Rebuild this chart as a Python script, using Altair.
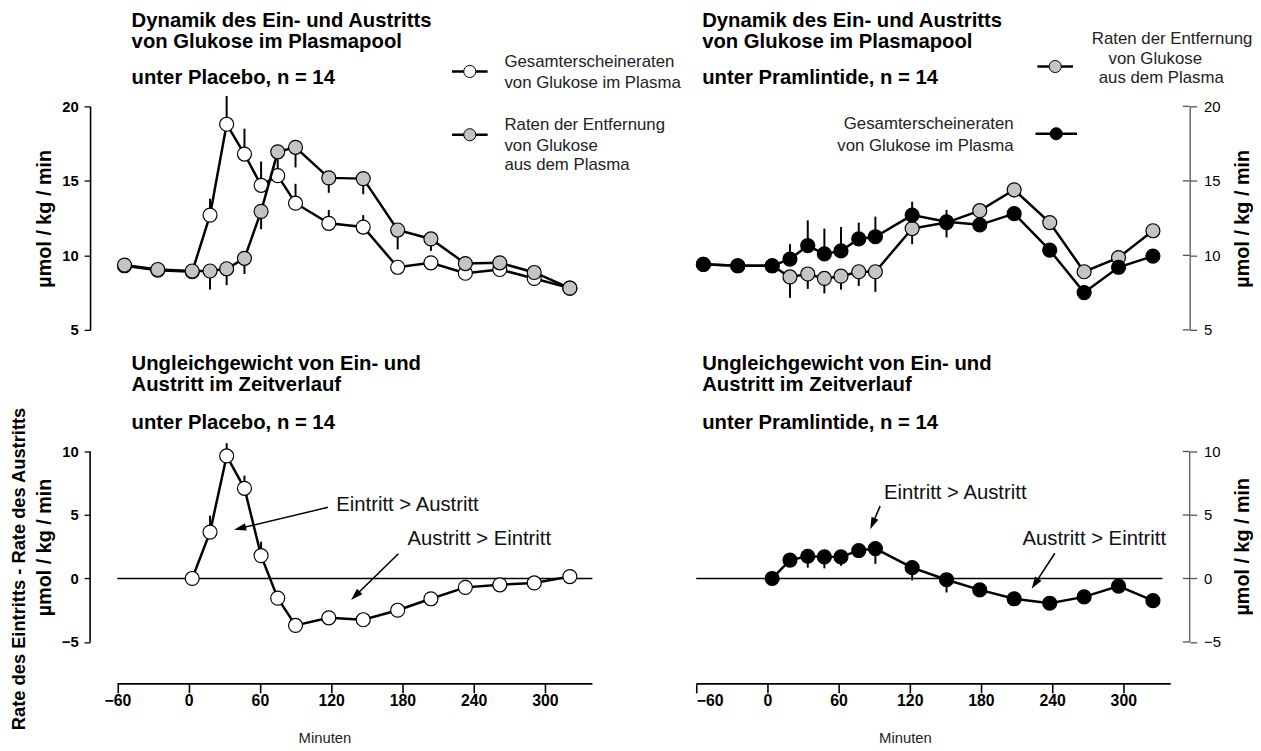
import math
import altair as alt
import pandas as pd

FONT = "Liberation Sans"

# ---------------- data ----------------
T_LEFT = [-54, -26, 3, 18, 32, 47, 61, 75, 90, 118, 147, 176, 204, 233, 262, 291, 321]
T_RIGHT = [-54, -25, 4, 19, 34, 48, 62, 77, 91, 122, 151, 179, 208, 238, 267, 296, 325]

# Placebo: Gesamterscheineraten (open) and Raten der Entfernung (grey)
PLA_RA = [9.3, 9.0, 8.9, 12.7, 18.8, 16.8, 14.7, 15.35, 13.5, 12.15, 11.9, 9.2, 9.5, 8.8, 9.05, 8.45, 7.8]
PLA_RA_ERR = [0, 0, 0, 1.1, 1.9, 1.7, 1.6, 1.1, 1.3, 0.9, 0.8, 0, 0, 0, 0, 0, 0]
PLA_RD = [9.35, 9.05, 8.95, 8.95, 9.1, 9.8, 12.95, 16.95, 17.25, 15.2, 15.15, 11.7, 11.1, 9.45, 9.5, 8.85, 7.8]
PLA_RD_ERR = [-0.3, 0, 0, -1.25, -1.1, -1.05, -1.2, 0, -1.35, -1.0, -1.05, -1.3, -0.8, -0.4, 0, 0, 0]

# Pramlintide: Gesamterscheineraten (black) and Raten der Entfernung (grey)
PRAM_RA = [9.4, 9.3, 9.3, 9.75, 10.65, 10.1, 10.3, 11.1, 11.25, 12.7, 12.25, 12.05, 12.8, 10.35, 7.5, 9.2, 9.95]
PRAM_RA_ERR = [0, 0, 0, 1.0, 1.7, 1.7, 1.6, 1.1, 1.35, 0.9, 0.8, 0, 0, 0, -0.4, 0, 0]
PRAM_RD = [9.4, 9.3, 9.3, 8.55, 8.75, 8.45, 8.6, 8.9, 8.9, 11.8, 12.2, 13.0, 14.4, 12.2, 8.9, 9.85, 11.65]
PRAM_RD_ERR = [0, 0, 0, -1.4, -1.0, -1.0, -0.9, -0.95, -1.35, -1.05, -1.0, 0, -0.5, -0.45, 0, 0, 0]

# Imbalance (Eintritt - Austritt)
DIFF_T_LEFT = T_LEFT[2:]
DIFF_PLA = [0.0, 3.65, 9.65, 7.1, 1.8, -1.55, -3.7, -3.1, -3.25, -2.5, -1.6, -0.7, -0.5, -0.35, 0.15]
DIFF_PLA_ERR = [0, 1.3, 1.0, 1.0, 1.1, 0, 0, 0, 0, 0, 0, 0, 0, 0, 0]
DIFF_T_RIGHT = T_RIGHT[2:]
DIFF_PRAM = [0.0, 1.45, 1.75, 1.7, 1.7, 2.2, 2.35, 0.85, -0.1, -0.9, -1.6, -1.95, -1.45, -0.6, -1.75]
DIFF_PRAM_ERR = [0, 0, -0.9, -0.9, -0.7, 0, -1.2, -1.0, -1.0, 0, 0, 0, 0, 0, 0]

X_TICKS = [-60, 0, 60, 120, 180, 240, 300]
Y_TICKS_TOP = [5, 10, 15, 20]
Y_TICKS_BOT = [-5, 0, 5, 10]

# annotation arrows (tail -> tip, data units)
ARROWS_LEFT = [((117.4, 5.6), (38.3, 3.84)), ((176.6, 1.95), (136.8, -1.69))]
ARROWS_RIGHT = [((95.0, 5.7), (86.7, 3.88)), ((242.3, 1.99), (222.8, -0.8))]
NOTES_LEFT = [("Eintritt > Austritt", 124.3, 5.77), ("Austritt > Eintritt", 184.3, 3.1)]
NOTES_RIGHT = [("Eintritt > Austritt", 98.3, 6.74), ("Austritt > Eintritt", 215.0, 3.1)]

# ---------------- geometry ----------------
LEFT_DOMAIN = [-83, 340]
RIGHT_DOMAIN = [-60, 356]
W_LEFT, W_RIGHT = 508, 499
H_TOP, H_BOT = 226, 235
TOP_DOMAIN = [5, 20]
BOT_DOMAIN = [-8.3, 10]
PX_PER_MIN = 1.2
PX_PER_UNIT_BOT = 12.83

GREY = "#c4c4c4"
ONE = pd.DataFrame({"a": [0]})
TITLE_SIZE = 20.5
LEG_SIZE = 17
YTITLE_SIZE = 20
T1, T2, T3 = -86.5, -65.5, -28.3


def xenc(domain, show_axis, title_x):
    def f(field):
        if show_axis:
            ax = alt.Axis(values=X_TICKS, tickSize=9, tickWidth=1.6, tickColor="black",
                          domain=False, labelFont=FONT, labelFontSize=16, labelFontWeight="bold",
                          labelPadding=0, labelColor="black", title="Minuten", titleFont=FONT,
                          titleFontSize=15, titleFontWeight="normal", titleColor="#222",
                          titleX=title_x, titleY=54, titleBaseline="middle", titleAlign="center",
                          grid=False)
        else:
            ax = None
        return alt.X(f"{field}:Q", scale=alt.Scale(domain=domain, nice=False, zero=False), axis=ax)
    return f


def yenc(domain, ticks, orient, show_domain):
    left = orient == "left"
    def f(field):
        ax = alt.Axis(values=ticks, orient=orient, tickSize=6 if left else 7, tickWidth=1.3,
                      tickColor="black" if left else "#555",
                      domain=show_domain, domainColor="black" if left else "#555",
                      domainWidth=1.6 if left else 1.3,
                      labelFont=FONT, labelFontSize=15, labelFontWeight="bold" if left else "normal",
                      labelColor="black", labelPadding=6 if left else 7, title=None, grid=False)
        return alt.Y(f"{field}:Q", scale=alt.Scale(domain=domain, nice=False, zero=False), axis=ax)
    return f


def txt(s, x, y, size=15, weight="normal", align="left", angle=0, color="black"):
    return alt.Chart(pd.DataFrame({"s": [s]})).mark_text(
        font=FONT, fontSize=size, fontWeight=weight, align=align, baseline="middle",
        angle=angle, color=color).encode(x=alt.value(x), y=alt.value(y), text="s:N")


def legend_sym(x, y, fill, half=18):
    line = alt.Chart(ONE).mark_rule(color="black", strokeWidth=2.5).encode(
        x=alt.value(x - half), x2=alt.value(x + half), y=alt.value(y))
    dot = alt.Chart(ONE).mark_point(shape="circle", filled=True, fill=fill, stroke="black",
                                    strokeWidth=1, size=150, opacity=1).encode(
        x=alt.value(x), y=alt.value(y))
    return [line, dot]


def series(t, v, err, fill, X, Y):
    df = pd.DataFrame({"t": t, "v": v, "e": err})
    df["v2"] = df["v"] + df["e"]
    base = alt.Chart(df)
    eb = base.transform_filter("datum.e != 0").mark_rule(color="black", strokeWidth=2).encode(
        x=X("t"), y=Y("v"), y2="v2")
    line = base.mark_line(color="black", strokeWidth=2.5).encode(x=X("t"), y=Y("v"))
    pts = base.mark_point(shape="circle", filled=True, fill=fill, stroke="black", strokeWidth=1.2,
                          size=200, opacity=1).encode(x=X("t"), y=Y("v"))
    return eb, line, pts


def arrows(spec, notes, X, Y):
    rows_l, rows_h = [], []
    r = 6.0
    for (t0, v0), (t1, v1) in spec:
        dx = (t1 - t0) * PX_PER_MIN
        dy = -(v1 - v0) * PX_PER_UNIT_BOT
        L = math.hypot(dx, dy)
        ux, uy = dx / L, dy / L
        ang = math.degrees(math.atan2(ux, -uy)) % 360
        tc = t1 - r * ux / PX_PER_MIN
        vc = v1 + r * uy / PX_PER_UNIT_BOT
        rows_l.append({"t": t0, "v": v0, "t2": tc, "v2": vc})
        rows_h.append({"t": tc, "v": vc, "ang": ang})
    lines = alt.Chart(pd.DataFrame(rows_l)).mark_rule(color="black", strokeWidth=1.6).encode(
        x=X("t"), y=Y("v"), x2="t2", y2="v2")
    heads = alt.Chart(pd.DataFrame(rows_h)).mark_point(
        shape="M0,-1L0.62,1L-0.62,1Z", filled=True, color="black", size=150, opacity=1).encode(
        x=X("t"), y=Y("v"), angle=alt.Angle("ang:Q", scale=None))
    ndf = pd.DataFrame({"s": [n[0] for n in notes], "t": [n[1] for n in notes], "v": [n[2] for n in notes]})
    ntext = alt.Chart(ndf).mark_text(font=FONT, fontSize=20.5, align="left", baseline="middle",
                                     color="#111").encode(x=X("t"), y=Y("v"), text="s:N")
    return [lines, heads, ntext]


# ---------------- top-left: Placebo ----------------
X = xenc(LEFT_DOMAIN, False, 0)
Y = yenc(TOP_DOMAIN, Y_TICKS_TOP, "left", True)
ra = series(T_LEFT, PLA_RA, PLA_RA_ERR, "white", X, Y)
rd = series(T_LEFT, PLA_RD, PLA_RD_ERR, GREY, X, Y)
# invisible anchor fixing the top-left corner of the drawing
anchor = alt.Chart(ONE).mark_rule(strokeOpacity=0, strokeWidth=1).encode(
    x=alt.value(-100), x2=alt.value(-90), y=alt.value(-115))
tl = alt.layer(
    anchor, ra[0], rd[0], ra[1], ra[2], rd[1], rd[2],
    txt("Dynamik des Ein- und Austritts", 42, T1, TITLE_SIZE, "bold"),
    txt("von Glukose im Plasmapool", 42, T2, TITLE_SIZE, "bold"),
    txt("unter Placebo, n = 14", 42, T3, TITLE_SIZE, "bold"),
    txt("µmol / kg / min", -46, 113.7, YTITLE_SIZE, "bold", "center", 270),
    *legend_sym(384, -35.3, "white"),
    txt("Gesamterscheineraten", 419, -44.3, LEG_SIZE, color="#222"),
    txt("von Glukose im Plasma", 419, -23.3, LEG_SIZE, color="#222"),
    *legend_sym(384, 28.7, GREY),
    txt("Raten der Entfernung", 419, 18.7, LEG_SIZE, color="#222"),
    txt("von Glukose", 419, 39.7, LEG_SIZE, color="#222"),
    txt("aus dem  Plasma", 419, 59.7, LEG_SIZE, color="#222"),
).properties(width=W_LEFT, height=H_TOP)

# ---------------- top-right: Pramlintide ----------------
X = xenc(RIGHT_DOMAIN, False, 0)
Y = yenc(TOP_DOMAIN, Y_TICKS_TOP, "right", True)
pra = series(T_RIGHT, PRAM_RA, PRAM_RA_ERR, "black", X, Y)
prd = series(T_RIGHT, PRAM_RD, PRAM_RD_ERR, GREY, X, Y)
inner_top = alt.Chart(pd.DataFrame({"v": Y_TICKS_TOP})).mark_rule(color="#555", strokeWidth=1.3).encode(
    x=alt.value(W_RIGHT - 7), x2=alt.value(W_RIGHT), y=Y("v"))
tr = alt.layer(
    inner_top, prd[0], pra[0], prd[1], prd[2], pra[1], pra[2],
    txt("Dynamik des Ein- und Austritts", 6, T1, TITLE_SIZE, "bold"),
    txt("von Glukose im Plasmapool", 6, T2, TITLE_SIZE, "bold"),
    txt("unter Pramlintide, n = 14", 6, T3, TITLE_SIZE, "bold"),
    txt("µmol / kg / min", 553, 113.7, YTITLE_SIZE, "bold", "center", 270),
    *legend_sym(363, -40.3, GREY),
    txt("Raten der Entfernung", 400, -68.3, LEG_SIZE, color="#222"),
    txt("von Glukose", 417, -48.3, LEG_SIZE, color="#222"),
    txt("aus dem  Plasma", 407, -28.3, LEG_SIZE, color="#222"),
    *legend_sym(364, 27.7, "black", 21),
    txt("Gesamterscheineraten", 321, 17.7, LEG_SIZE, align="right", color="#222"),
    txt("von Glukose im Plasma", 321, 39.7, LEG_SIZE, align="right", color="#222"),
).properties(width=W_RIGHT, height=H_TOP)

# ---------------- bottom-left: imbalance Placebo ----------------
X = xenc(LEFT_DOMAIN, True, 237)
Y = yenc(BOT_DOMAIN, Y_TICKS_BOT, "left", False)
d = series(DIFF_T_LEFT, DIFF_PLA, DIFF_PLA_ERR, "white", X, Y)
xline = alt.Chart(pd.DataFrame({"t": [-60], "t2": [340], "v": [BOT_DOMAIN[0]]})).mark_rule(
    color="black", strokeWidth=1.8).encode(x=X("t"), x2="t2", y=Y("v"))
yline = alt.Chart(pd.DataFrame({"t": [LEFT_DOMAIN[0]], "v": [-5], "v2": [10]})).mark_rule(
    color="black", strokeWidth=1.6).encode(x=X("t"), y=Y("v"), y2="v2")
zero = alt.Chart(pd.DataFrame({"t": [-60], "t2": [340], "v": [0]})).mark_rule(
    color="black", strokeWidth=1.6).encode(x=X("t"), x2="t2", y=Y("v"))
bl = alt.layer(
    xline, yline, zero, d[0], d[1], d[2], *arrows(ARROWS_LEFT, NOTES_LEFT, X, Y),
    txt("Ungleichgewicht von Ein- und", 42, T1 - 1.4, TITLE_SIZE, "bold"),
    txt("Austritt im Zeitverlauf", 42, T2 - 1.4, TITLE_SIZE, "bold"),
    txt("unter Placebo, n = 14", 42, T3 - 0.4, TITLE_SIZE, "bold"),
    txt("Rate des Eintritts - Rate des Austritts", -71.5, 118.8, 18.5, "bold", "center", 270),
    txt("µmol / kg / min", -46, 97, YTITLE_SIZE, "bold", "center", 270),
).properties(width=W_LEFT, height=H_BOT)

# ---------------- bottom-right: imbalance Pramlintide ----------------
X = xenc(RIGHT_DOMAIN, True, 211)
Y = yenc(BOT_DOMAIN, Y_TICKS_BOT, "right", False)
d = series(DIFF_T_RIGHT, DIFF_PRAM, DIFF_PRAM_ERR, "black", X, Y)
xline = alt.Chart(pd.DataFrame({"t": [-60], "t2": [340], "v": [BOT_DOMAIN[0]]})).mark_rule(
    color="black", strokeWidth=1.8).encode(x=X("t"), x2="t2", y=Y("v"))
yline = alt.Chart(pd.DataFrame({"t": [RIGHT_DOMAIN[1]], "v": [-5], "v2": [10]})).mark_rule(
    color="#555", strokeWidth=1.3).encode(x=X("t"), y=Y("v"), y2="v2")
zero = alt.Chart(pd.DataFrame({"t": [-60], "t2": [333], "v": [0]})).mark_rule(
    color="black", strokeWidth=1.6).encode(x=X("t"), x2="t2", y=Y("v"))
inner_bot = alt.Chart(pd.DataFrame({"v": Y_TICKS_BOT})).mark_rule(color="#555", strokeWidth=1.3).encode(
    x=alt.value(W_RIGHT - 7), x2=alt.value(W_RIGHT), y=Y("v"))
br = alt.layer(
    xline, yline, inner_bot, zero, d[0], d[1], d[2], *arrows(ARROWS_RIGHT, NOTES_RIGHT, X, Y),
    txt("Ungleichgewicht von Ein- und", 6, T1 - 1.4, TITLE_SIZE, "bold"),
    txt("Austritt im Zeitverlauf", 6, T2 - 1.4, TITLE_SIZE, "bold"),
    txt("unter Pramlintide, n = 14", 6, T3 - 0.4, TITLE_SIZE, "bold"),
    txt("µmol / kg / min", 553, 96.3, YTITLE_SIZE, "bold", "center", 270),
).properties(width=W_RIGHT, height=H_BOT)

chart = alt.concat(
    tl, tr, bl, br, columns=2,
    spacing=alt.RowColnumber(row=123, column=105), bounds="flush",
).properties(
    padding={"left": -17, "top": -19.7, "right": 0, "bottom": 0}, background="white"
).configure_view(stroke=None).configure_axis(grid=False)

chart.save("out.html", embed_options={"renderer": "svg", "actions": False})
